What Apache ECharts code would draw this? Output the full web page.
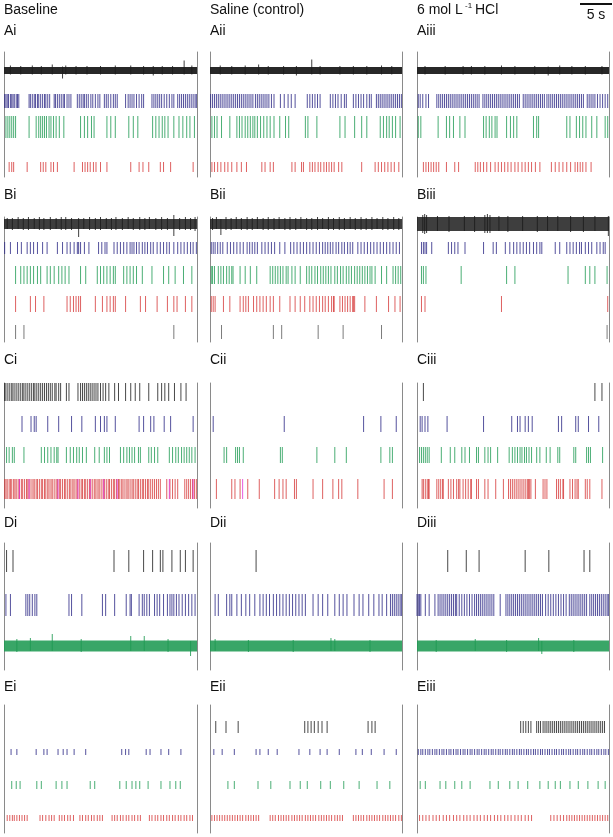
<!DOCTYPE html>
<html>
<head>
<meta charset="utf-8">
<script src="https://cdn.jsdelivr.net/npm/echarts@6/dist/echarts.min.js"></script>
<style>
html,body{margin:0;padding:0;background:#fff;}
#main{width:613px;height:837px;}
</style>
</head>
<body>
<div id="main"></div>
<script>
// recording window of every panel, seconds
const X_MIN = 0, X_MAX = 30;
const SCALE_BAR = 5; // s

const colTitles = ['Baseline', 'Saline (control)', '6 mol L', 'HCl'];
const panelNames = ['Ai','Aii','Aiii','Bi','Bii','Biii','Ci','Cii','Ciii','Di','Dii','Diii','Ei','Eii','Eiii'];

// ---- spike times (s) ----
// row A
const Ai_black_peaks = [[1.0,5,4],[2.6,4.5,4],[4.4,5,4],[5.8,4.5,4],[7.5,6,4],[9.1,4,8],[9.6,5,4],[11.2,4.5,4],[12.9,4.5,4],[15.0,4.5,4],[17.3,5,4],[19.7,5,4],[21.7,4.5,4],[23.2,4.5,5],[24.6,4.5,4],[26.2,4.5,4],[28.0,10,4],[29.2,5,4]];
const Ai_blue = [0.1,0.3,0.5,0.7,1.0,1.2,1.4,1.6,1.9,2.1,2.3,3.9,4.1,4.4,4.7,4.9,5.2,5.4,5.7,6.0,6.3,6.5,6.8,7.1,7.8,8.0,8.3,8.6,8.9,9.2,9.4,9.8,10.1,10.4,11.4,11.7,12.0,12.3,12.5,12.8,13.1,13.5,13.8,14.2,14.6,14.9,15.6,15.9,16.2,16.6,17.0,17.3,17.6,18.9,19.3,19.6,19.9,20.2,20.6,21.0,21.4,21.7,23.0,23.3,23.6,23.9,24.2,24.5,24.9,25.3,25.7,26.1,26.4,27.0,27.3,27.6,27.9,28.2,28.5,28.8,29.1,29.4,29.7,29.9];
const Ai_green = [0.3,0.6,0.9,1.2,1.5,1.8,3.9,5.0,5.4,5.7,6.0,6.3,6.6,7.0,7.3,7.7,8.1,8.6,9.3,11.9,12.5,13.0,13.6,14.0,16.0,16.6,17.3,19.4,20.1,20.8,23.1,23.6,24.1,24.6,25.0,25.5,26.4,27.2,27.8,28.4,28.9,29.6];
const Ai_red = [0.8,1.2,1.5,3.6,5.7,6.1,6.5,7.3,7.7,8.3,10.9,12.2,12.6,13.0,13.4,13.9,14.3,15.0,16.0,19.7,21.0,21.6,22.5,24.3,24.8,25.9,29.4];

const Aii_black_peaks = [[1.6,5,4],[3.4,4.5,4],[5.5,5,4],[7.6,6,4],[9.1,4.5,4],[11.5,4.5,4],[13.5,4.5,5],[15.9,11,4],[17.2,4.5,4],[20.3,4.5,4],[22.4,4.5,4],[24.5,4.5,4],[26.8,5,4],[28.4,4.5,4]];
const Aii_blue = [0.1,0.4,0.7,1.0,1.3,1.6,1.9,2.2,2.5,2.8,3.1,3.4,3.7,4.0,4.3,4.6,4.9,5.2,5.5,5.8,6.1,6.4,6.7,7.1,7.4,7.7,8.0,8.3,8.6,8.9,9.2,9.6,10.0,11.0,11.6,12.2,12.7,13.3,15.2,15.6,16.0,16.4,16.8,17.2,18.8,19.2,19.6,20.0,20.5,21.0,21.3,22.4,22.8,23.2,23.6,24.0,24.5,24.9,25.2,26.0,26.3,26.6,26.9,27.2,27.5,27.8,28.1,28.4,28.7,29.0,29.3,29.6,29.9];
const Aii_green = [0.3,0.7,1.1,1.8,3.1,4.2,4.6,5.0,5.5,5.9,6.3,6.7,7.0,7.4,7.9,8.4,8.9,9.4,10.0,10.9,11.8,12.3,14.9,15.3,16.7,20.3,21.1,22.6,23.7,24.5,26.6,27.1,27.6,28.0,28.5,29.0,29.7];
const Aii_red = [0.3,0.7,1.2,1.7,2.3,2.8,3.4,4.2,4.9,5.7,8.1,8.6,9.4,9.9,12.8,13.3,14.3,14.6,15.6,16.0,16.4,16.9,17.3,17.8,18.2,18.6,19.0,19.4,20.1,20.6,23.7,25.8,26.3,26.8,27.3,27.8,28.3,28.8,29.5];

const Aiii_black_peaks = [[1.25,4.5,4],[4.4,4.5,4],[7.2,4.5,4],[8.5,4.5,4],[10.6,4.5,4],[13.2,5,4],[15.3,4.5,4],[18.4,4.5,4],[20.5,4,5],[22.3,5,4],[24.2,4.5,4],[26.3,4.5,4],[28.9,4.5,4]];
const Aiii_blue = [0.2,0.5,0.9,1.4,1.8,3.1,3.4,3.7,4.0,4.3,4.6,4.9,5.2,5.5,5.8,6.1,6.4,6.7,7.0,7.3,7.6,7.9,8.2,8.5,8.8,9.1,9.4,9.7,10.3,10.6,10.9,11.2,11.5,11.8,12.1,12.4,12.7,13.0,13.3,13.6,13.9,14.2,14.5,14.8,15.1,15.4,15.7,16.0,16.6,16.9,17.2,17.5,17.8,18.1,18.4,18.7,19.0,19.3,19.6,19.9,20.3,20.6,20.9,21.2,21.5,21.8,22.1,22.4,22.7,23.0,23.3,23.6,23.9,24.2,24.5,24.8,25.1,25.4,25.7,26.0,26.6,26.9,27.2,27.5,27.8,28.2,28.6,29.0,29.4,29.8];
const Aiii_green = [0.2,0.6,3.3,4.6,5.1,5.7,6.7,7.5,10.4,10.8,11.3,11.7,12.2,12.5,14.0,14.6,15.1,15.6,18.2,18.7,19.0,23.4,23.9,24.9,25.4,25.9,26.4,27.3,28.1,29.4,29.8];
const Aiii_red = [1.0,1.4,1.8,2.2,2.6,3.0,3.4,4.6,5.9,6.5,9.1,9.5,9.9,10.4,10.9,11.5,12.2,12.7,13.2,13.7,14.2,14.7,15.3,15.8,16.4,16.9,17.4,17.9,18.5,19.2,21.0,21.6,22.2,22.8,23.4,24.0,24.7,25.1,25.5,25.9,26.4,27.2];

// row B
const Bi_black_peaks = [[0.5,6,5],[1.3,6,6],[2.2,7,5],[3.0,6,6],[3.8,7,6],[4.7,6,5],[5.5,7,6],[6.2,6,6],[7.2,7,6],[8.1,6,5],[8.9,7,6],[9.6,7,6],[10.5,6,6],[11.6,6,13],[12.4,6,5],[13.3,7,6],[14.2,6,6],[15.0,7,6],[15.9,6,5],[16.7,6,6],[17.4,7,6],[18.4,6,6],[19.3,7,5],[20.1,6,6],[21.1,7,6],[21.9,6,6],[22.6,7,5],[23.6,6,6],[24.5,7,6],[25.4,6,6],[26.4,9,12],[27.3,6,6],[28.2,7,6],[29.0,6,6],[29.7,7,7]];
const Bi_blue = [0.1,1.0,2.1,2.7,3.6,4.1,4.6,5.2,6.0,6.7,8.3,9.1,9.8,10.3,10.9,11.4,11.6,11.9,12.5,13.2,14.7,15.2,15.7,16.0,17.1,17.6,18.1,18.6,19.1,19.6,19.9,20.2,20.6,21.0,21.5,21.9,22.3,22.8,23.2,23.8,24.3,24.8,25.3,25.7,26.4,27.0,27.5,28.0,28.5,29.0,29.4,29.9];
const Bi_green = [1.8,2.6,3.1,3.6,4.1,4.6,5.2,5.7,6.7,7.2,7.8,8.5,9.0,9.5,10.1,11.9,12.7,14.5,15.0,15.5,16.0,16.5,17.0,17.3,18.6,19.1,19.6,20.1,20.6,21.5,23.0,24.8,25.6,26.6,27.9,29.2];
const Bi_red = [1.8,4.1,4.9,6.2,9.8,10.3,10.8,11.2,11.6,11.9,14.2,15.3,16.0,16.5,17.0,17.3,18.9,21.2,22.0,23.8,25.4,26.4,26.9,28.2,29.2];
const Bi_gray = [1.8,3.1,26.4];

const Bii_black_peaks = [[0.4,6,6],[1.0,7,5],[1.7,5,11],[2.5,7,6],[3.3,6,6],[4.1,7,5],[4.9,6,6],[5.8,7,6],[6.6,6,6],[7.4,7,5],[8.3,6,6],[9.1,7,6],[10.0,6,6],[10.8,7,5],[11.7,6,6],[12.5,7,6],[13.4,6,6],[14.2,7,5],[15.1,6,6],[15.9,6,6],[16.8,7,6],[17.6,6,5],[18.5,7,6],[19.3,6,6],[20.2,7,6],[21.0,6,6],[21.9,7,5],[22.7,6,6],[23.6,7,6],[24.4,6,6],[25.3,7,6],[26.1,6,5],[27.0,7,6],[27.8,6,6],[28.7,7,6],[29.5,6,6]];
const Bii_blue = [0.2,0.5,0.8,1.2,1.6,2.0,2.7,3.2,3.7,4.2,4.7,5.2,5.8,6.2,6.6,7.0,7.4,8.1,8.6,9.1,9.6,10.1,10.9,11.7,12.6,13.1,13.6,14.1,14.6,15.1,15.6,16.1,16.6,17.1,17.6,18.0,18.4,18.8,19.2,19.7,20.1,20.6,21.0,21.5,21.9,22.3,23.1,23.6,24.1,24.6,25.1,25.6,26.1,26.6,27.1,27.6,28.1,28.6,29.1,29.6];
const Bii_green = [0.2,0.4,0.7,1.3,1.7,2.1,2.6,3.0,3.4,3.6,4.7,5.5,6.3,7.3,9.4,9.8,10.2,10.6,11.0,11.4,11.9,12.2,12.8,13.3,14.1,15.1,15.5,15.9,16.4,16.8,17.3,17.7,18.1,18.5,18.9,19.5,19.9,20.4,20.8,21.3,21.7,22.1,22.6,23.0,23.4,23.8,24.2,24.6,25.0,25.3,25.8,26.8,27.6,28.6,29.0,29.4,29.8];
const Bii_red = [0.2,0.5,0.8,2.1,3.1,4.7,5.2,5.6,6.0,6.8,7.3,7.8,8.3,8.8,9.4,9.9,10.9,12.5,13.3,14.1,14.8,15.6,16.1,16.6,17.1,17.6,18.0,18.5,19.0,19.3,19.4,20.3,20.7,21.1,21.5,21.9,22.3,22.4,22.6,24.2,26.0,27.9,28.9,29.7];
const Bii_gray = [1.8,9.9,11.2,16.9,20.8,26.8];

const Biii_black_peaks = [[0.9,9,9],[1.2,10,10],[1.5,9,9],[3.2,8,7],[5.0,8,8],[7.4,8,7],[9.0,8,8],[10.6,9,9],[11.0,10,9],[11.4,9,9],[12.8,8,7],[14.2,8,8],[16.5,8,7],[18.8,8,8],[20.4,8,7],[22.0,8,7],[24.0,8,8],[26.0,8,8],[27.8,8,7],[29.9,8,12]];
const Biii_blue = [0.7,1.0,1.25,1.5,2.3,4.9,5.4,5.9,6.4,7.5,10.4,11.9,12.4,13.8,14.5,15.1,15.6,16.1,16.6,17.1,17.6,18.2,18.7,19.2,19.5,21.6,22.3,23.4,23.9,24.4,24.9,25.4,25.7,26.3,26.8,27.3,28.1,28.6,29.1,29.4];
const Biii_green = [0.7,1.0,1.4,6.9,14.0,15.3,23.6,26.3,27.0,27.8,29.7];
const Biii_red = [0.7,1.25,13.2,29.8];
const Biii_gray = [29.7];

// row C
const Ci_black = [0.1,0.3,0.6,0.9,1.2,1.4,1.7,2.0,2.3,2.6,2.9,3.1,3.4,3.7,4.0,4.3,4.6,4.8,5.1,5.4,5.7,6.0,6.3,6.6,6.9,7.2,7.5,7.9,8.1,8.5,8.8,9.7,10.1,11.5,11.9,12.2,12.5,12.8,13.1,13.4,13.7,14.0,14.3,14.6,15.0,15.4,15.8,16.3,17.2,17.8,18.9,19.7,20.4,21.1,22.5,23.9,24.5,25.0,25.6,26.5,27.5,28.3];
const Ci_blue = [2.8,4.2,4.7,5.0,6.8,8.5,10.5,12.1,14.2,15.0,15.6,16.0,17.3,21.0,21.7,22.8,23.3,24.9,25.9,29.4];
const Ci_green = [0.4,0.8,1.3,1.6,3.1,5.8,6.3,6.8,7.3,7.8,8.2,8.4,9.7,10.3,10.8,11.3,11.7,12.2,12.8,14.1,14.8,15.6,16.0,16.4,18.1,18.6,19.1,19.5,19.9,20.3,20.9,21.2,22.5,22.9,23.4,23.9,25.7,26.2,26.7,27.1,27.6,28.0,28.4,28.8,29.2,29.7];
const Ci_red = [0.1,0.3,0.5,0.8,1.0,1.2,1.5,1.7,1.9,2.2,2.4,2.7,2.9,3.2,3.5,3.7,3.9,4.2,4.5,4.7,5.0,5.2,5.5,5.8,6.0,6.3,6.5,6.8,7.0,7.3,7.5,7.8,8.1,8.3,8.6,8.8,9.1,9.4,9.6,9.9,10.2,10.4,10.7,10.9,11.2,11.4,11.7,12.0,12.2,12.5,12.7,13.0,13.3,13.5,13.8,14.1,14.3,14.6,14.8,15.1,15.4,15.6,15.9,16.2,16.4,16.7,17.0,17.2,17.5,17.8,18.0,18.3,18.5,18.8,19.1,19.3,19.6,19.9,20.1,20.4,20.7,20.9,21.2,21.5,21.7,22.0,22.3,22.5,22.8,23.1,23.4,23.7,24.0,24.3,25.3,25.8,26.2,26.6,27.0,28.1,28.4,28.7,29.0,29.3,29.6,29.9];
const Ci_magenta = [2.4,3.9,8.4,11.5,13.4,15.5,17.6,25.7,29.4];

const Cii_blue = [0.5,11.6,24.0,26.7,29.1];
const Cii_green = [2.2,2.6,4.0,4.3,4.6,5.2,11.0,11.3,16.7,19.5,21.3,26.7,28.1,28.5];
const Cii_red = [1.0,3.4,3.9,4.7,5.9,7.7,10.1,10.8,11.4,11.9,13.2,13.5,16.1,17.6,19.2,20.1,20.6,23.1,27.2,28.5];
const Cii_magenta = [5.1];

const Ciii_black = [1.0,27.8,28.9];
const Ciii_blue = [0.5,0.8,1.25,1.7,4.7,10.4,14.8,15.7,16.1,16.9,17.4,18.0,22.1,22.6,24.8,25.2,26.8,28.4];
const Ciii_green = [0.4,0.7,1.0,1.3,1.6,1.9,3.8,5.2,5.9,7.0,7.5,8.2,9.3,9.6,10.6,11.1,11.5,12.6,14.4,14.9,15.3,15.7,16.1,16.4,16.8,17.1,17.5,17.9,18.7,19.2,20.2,20.8,22.0,22.3,24.5,24.8,26.5,26.8,27.1,29.0];
const Ciii_red = [0.8,1.0,1.3,1.6,1.8,1.9,3.1,3.4,3.7,4.0,4.1,4.9,5.3,5.7,6.2,6.5,6.7,7.2,7.6,8.0,8.4,8.5,9.3,9.6,10.6,11.1,12.3,13.5,14.3,14.6,14.9,15.2,15.5,15.8,16.1,16.4,16.7,17.0,17.3,17.4,17.6,17.8,18.5,19.7,20.0,20.3,21.8,22.1,22.4,22.8,22.9,23.9,24.3,24.7,25.0,25.2,26.3,26.6,27.0,28.9];

// row D
const Di_black = [0.4,1.4,17.1,19.4,21.7,23.1,24.3,24.7,26.1,27.4,28.2,29.4];
const Di_blue = [0.3,1.0,3.4,3.7,4.0,4.4,4.8,5.1,10.1,10.5,12.1,15.3,15.8,17.2,19.0,19.6,19.8,21.0,21.5,21.8,22.2,22.6,23.4,23.8,24.2,24.8,25.4,25.8,26.1,26.4,26.8,27.2,27.7,28.2,28.7,29.2,29.7];
const Di_green_peaks = [[2.0,7,6],[4.1,8,5],[7.5,12,5],[12.0,7,6],[19.7,10,5],[21.8,10,5],[25.5,7,6],[29.0,5,10]];

const Dii_black = [7.2];
const Dii_blue = [0.8,1.3,2.6,3.1,3.4,4.2,4.9,5.6,6.2,7.0,7.8,8.3,8.8,9.3,9.9,10.4,10.9,11.4,11.9,12.4,12.9,13.4,13.9,14.4,14.9,16.1,16.9,17.6,18.4,19.5,20.2,20.8,21.4,22.5,23.3,23.9,24.8,25.6,26.4,26.9,27.6,28.2,28.5,28.8,29.1,29.4,29.7,29.9];
const Dii_green_peaks = [[0.8,7,5],[6.0,6,6],[13.0,6,6],[18.9,8,5],[19.5,7,5],[25.0,6,6]];

const Diii_black = [4.8,7.7,9.7,16.9,20.6,26.1,27.0];
const Diii_blue = [0.0,0.2,0.4,0.6,1.3,1.9,2.8,3.3,3.6,3.9,4.2,4.5,4.8,5.1,5.4,5.7,6.0,6.2,6.6,7.0,7.4,7.8,8.2,8.6,9.0,9.3,9.6,9.9,10.2,10.5,10.8,11.1,11.4,11.7,12.0,13.0,13.9,14.2,14.5,14.8,15.1,15.4,15.7,16.0,16.3,16.6,16.9,17.2,17.5,17.8,18.1,18.4,18.7,19.0,19.3,19.6,20.1,20.5,20.9,21.3,21.7,22.1,22.5,22.9,23.3,23.8,24.1,24.4,24.7,25.0,25.3,25.6,25.9,26.2,26.5,27.0,27.3,27.6,27.9,28.2,28.5,28.8,29.1,29.4,29.7,29.9];
const Diii_green_peaks = [[3.0,6,6],[9.1,7,5],[14.0,6,6],[19.0,8,5],[19.5,5,8],[24.5,6,6]];

// row E
const Ei_blue = [1.1,2.0,5.0,6.2,6.7,8.4,9.2,9.8,10.9,12.7,18.3,18.9,19.4,22.1,22.7,24.4,25.6,27.5];
const Ei_green = [1.2,1.9,2.5,5.1,5.8,8.1,9.0,9.8,13.4,14.1,18.0,19.0,19.9,20.5,21.1,22.4,24.4,25.8,26.7,27.4];
const Ei_red = [0.5,0.9,1.3,1.6,2.0,2.4,2.8,3.2,3.6,5.6,6.0,6.5,7.0,7.4,7.8,8.6,9.0,9.4,9.9,10.3,10.8,11.8,12.2,12.7,13.1,13.6,14.0,14.5,14.9,15.3,16.8,17.2,17.6,18.1,18.5,19.0,19.4,19.9,20.3,20.8,21.2,22.6,23.0,23.5,23.9,24.4,24.8,25.3,25.7,26.2,26.6,27.1,27.5,28.0,28.4,28.9,29.3];

const Eii_black = [0.9,2.5,4.4,14.8,15.3,15.8,16.3,16.9,17.5,18.3,24.7,25.3,25.8];
const Eii_blue = [0.6,1.9,3.8,7.2,7.8,9.1,10.5,13.9,15.6,17.2,18.3,20.2,22.8,23.8,25.2,27.2,29.1];
const Eii_green = [2.8,3.8,7.5,9.5,12.5,14.1,15.2,17.3,18.8,20.9,23.3,26.1,28.1];
const Eii_red = [0.3,0.7,1.1,1.5,1.9,2.3,2.7,3.1,3.5,3.9,4.3,4.7,5.1,5.6,6.0,6.4,6.8,7.2,7.6,9.4,9.8,10.2,10.7,11.1,11.5,11.9,12.3,12.8,13.2,13.6,14.0,14.4,14.9,15.3,15.7,16.1,16.5,17.0,17.4,17.8,18.2,18.6,19.0,19.5,19.9,20.3,20.7,22.4,22.8,23.2,23.6,24.0,24.5,24.9,25.3,25.7,26.1,26.5,27.0,27.4,27.8,28.2,28.6,29.0,29.5,29.9];

const Eiii_black = [16.2,16.6,17.0,17.4,17.8,18.7,19.0,19.3,19.7,20.0,20.3,20.6,20.9,21.2,21.5,21.8,22.1,22.4,22.7,23.0,23.3,23.6,23.9,24.2,24.5,24.8,25.1,25.4,25.7,26.0,26.3,26.6,26.9,27.2,27.5,27.8,28.1,28.4,28.7,29.0,29.3];
const Eiii_blue = [0.2,0.6,0.9,1.3,1.7,2.0,2.4,2.8,3.1,3.5,3.9,4.2,4.6,5.0,5.3,5.7,6.1,6.4,6.8,7.2,7.5,7.9,8.3,8.6,9.0,9.4,9.7,10.1,10.5,10.8,11.2,11.6,11.9,12.3,12.7,13.0,13.4,13.8,14.1,14.5,14.9,15.2,15.6,16.0,16.3,16.7,17.1,17.4,17.8,18.2,18.5,18.9,19.3,19.6,20.0,20.4,20.7,21.1,21.5,21.8,22.2,22.6,22.9,23.3,23.7,24.0,24.4,24.8,25.1,25.5,25.9,26.2,26.6,27.0,27.3,27.7,28.1,28.4,28.8,29.2,29.5,29.9];
const Eiii_green = [0.5,1.3,3.6,4.5,5.9,7.0,8.3,11.4,12.7,14.5,15.8,17.3,19.2,20.5,21.6,22.4,23.9,25.2,26.7,28.3,29.4];
const Eiii_red = [0.4,0.9,1.4,1.9,2.5,3.0,3.5,4.1,4.6,5.1,5.7,6.2,6.7,7.3,7.8,8.3,8.9,9.4,9.9,10.5,11.0,11.5,12.1,12.6,13.1,13.7,14.2,14.7,15.3,15.8,16.3,16.9,17.4,17.9,20.9,21.4,21.9,22.4,22.9,23.4,23.8,24.2,24.6,25.0,25.4,25.8,26.2,26.6,27.0,27.4,27.8,28.2,28.6,29.0,29.4,29.8];

// ---- layout / style (pixels) ----
const COLS = [{left: 4, width: 193}, {left: 210, width: 192}, {left: 417, width: 192}];
const ROWS = [
  {top: 52,  height: 125, labelY: 24,  lane: {black: 18.5, blue: 49, green: 75, red: 115}},
  {top: 217, height: 125, labelY: 188, lane: {black: 7, blue: 31, green: 58, red: 87, gray: 115}},
  {top: 383, height: 125, labelY: 353, lane: {black: 9, blue: 41, green: 72, red: 106, magenta: 106}},
  {top: 543, height: 127, labelY: 516, lane: {black: 18, blue: 62, green: 103}},
  {top: 705, height: 128, labelY: 680, lane: {black: 22, blue: 47, green: 80, red: 113}}
];
const HALF = [
  {black: 3.5, blue: 7, green: 11, red: 5},
  {black: 4, blue: 6, green: 9, red: 8, gray: 7},
  {black: 9, blue: 8, green: 8, red: 10, magenta: 10},
  {black: 11, blue: 11, green: 5},
  {black: 6, blue: 3, green: 4, red: 3}
];
const COLOR = {black: '#1c1c1c', blue: '#2a2785', green: '#1e9a52', red: '#d63a3a', magenta: '#e232d6', gray: '#5a5a5a'};

const trains = [
  ['Ai','blue',Ai_blue],['Ai','green',Ai_green],['Ai','red',Ai_red],
  ['Aii','blue',Aii_blue],['Aii','green',Aii_green],['Aii','red',Aii_red],
  ['Aiii','blue',Aiii_blue],['Aiii','green',Aiii_green],['Aiii','red',Aiii_red],
  ['Bi','blue',Bi_blue],['Bi','green',Bi_green],['Bi','red',Bi_red],['Bi','gray',Bi_gray],
  ['Bii','blue',Bii_blue],['Bii','green',Bii_green],['Bii','red',Bii_red],['Bii','gray',Bii_gray],
  ['Biii','blue',Biii_blue],['Biii','green',Biii_green],['Biii','red',Biii_red],['Biii','gray',Biii_gray],
  ['Ci','black',Ci_black],['Ci','blue',Ci_blue],['Ci','green',Ci_green],['Ci','red',Ci_red],['Ci','magenta',Ci_magenta],
  ['Cii','blue',Cii_blue],['Cii','green',Cii_green],['Cii','red',Cii_red],['Cii','magenta',Cii_magenta],
  ['Ciii','black',Ciii_black],['Ciii','blue',Ciii_blue],['Ciii','green',Ciii_green],['Ciii','red',Ciii_red],
  ['Di','black',Di_black],['Di','blue',Di_blue],
  ['Dii','black',Dii_black],['Dii','blue',Dii_blue],
  ['Diii','black',Diii_black],['Diii','blue',Diii_blue],
  ['Ei','blue',Ei_blue],['Ei','green',Ei_green],['Ei','red',Ei_red],
  ['Eii','black',Eii_black],['Eii','blue',Eii_blue],['Eii','green',Eii_green],['Eii','red',Eii_red],
  ['Eiii','black',Eiii_black],['Eiii','blue',Eiii_blue],['Eiii','green',Eiii_green],['Eiii','red',Eiii_red]
];
// continuous noisy recordings: band + listed excursions [t, up, down]
const noise = [
  ['Ai','black',Ai_black_peaks],['Aii','black',Aii_black_peaks],['Aiii','black',Aiii_black_peaks],
  ['Bi','black',Bi_black_peaks],['Bii','black',Bii_black_peaks],['Biii','black',Biii_black_peaks],
  ['Di','green',Di_green_peaks],['Dii','green',Dii_green_peaks],['Diii','green',Diii_green_peaks]
];
const BAND_HALF = {A: 3.5, B: 5, Biii: 7, D: 5.5};
const BAND_OPACITY = {A: 0.95, B: 0.85, D: 0.88};

var chart = echarts.init(document.getElementById('main'));

var grids = [], xAxes = [], yAxes = [], series = [], graphics = [];
panelNames.forEach(function (name, i) {
  var r = Math.floor(i / 3), c = i % 3;
  grids.push({left: COLS[c].left, top: ROWS[r].top, width: COLS[c].width, height: ROWS[r].height});
  xAxes.push({type: 'value', gridIndex: i, min: X_MIN, max: X_MAX, show: false});
  ['left', 'right'].forEach(function (pos) {
    yAxes.push({type: 'value', gridIndex: i, min: 0, max: ROWS[r].height, inverse: true, position: pos,
      axisLine: {show: true, onZero: false, lineStyle: {color: '#8a8a8a', width: 1}},
      axisTick: {show: false}, axisLabel: {show: false}, splitLine: {show: false}});
  });
  graphics.push({type: 'text', x: COLS[c].left, y: ROWS[r].labelY,
    style: {text: name, font: '14px "Liberation Sans", Arial, sans-serif', fill: '#111', verticalAlign: 'top'}});
});

function spikeSeries(gi, centre, half, color) {
  return function (params, api) {
    var a = api.coord([api.value(0), centre - half]);
    var b = api.coord([api.value(0), centre + half]);
    return {type: 'line', shape: {x1: a[0], y1: a[1], x2: b[0], y2: b[1]},
      style: {stroke: color, lineWidth: 1, opacity: 0.8}};
  };
}

trains.forEach(function (tr) {
  var gi = panelNames.indexOf(tr[0]), r = Math.floor(gi / 3);
  var centre = ROWS[r].lane[tr[1]], half = HALF[r][tr[1]];
  series.push({type: 'custom', xAxisIndex: gi, yAxisIndex: gi * 2, silent: true,
    renderItem: spikeSeries(gi, centre, half, COLOR[tr[1]]),
    data: tr[2].map(function (t) { return [t]; })});
});

noise.forEach(function (nz) {
  var gi = panelNames.indexOf(nz[0]), r = Math.floor(gi / 3);
  var centre = ROWS[r].lane[nz[1]];
  var half = nz[0] === 'Biii' ? BAND_HALF.Biii : BAND_HALF[nz[0][0]];
  var op = BAND_OPACITY[nz[0][0]];
  var color = COLOR[nz[1]];
  series.push({type: 'custom', xAxisIndex: gi, yAxisIndex: gi * 2, silent: true,
    renderItem: function (params, api) {
      var a = api.coord([api.value(0), centre - half]);
      var b = api.coord([api.value(1), centre + half]);
      return {type: 'rect', shape: {x: a[0], y: a[1], width: b[0] - a[0], height: b[1] - a[1]},
        style: {fill: color, opacity: op}};
    },
    data: [[X_MIN, X_MAX]]});
  series.push({type: 'custom', xAxisIndex: gi, yAxisIndex: gi * 2, silent: true,
    renderItem: function (params, api) {
      var a = api.coord([api.value(0), centre - api.value(1)]);
      var b = api.coord([api.value(0), centre + api.value(2)]);
      return {type: 'line', shape: {x1: a[0], y1: a[1], x2: b[0], y2: b[1]},
        style: {stroke: color, lineWidth: 1, opacity: 0.85}};
    },
    data: nz[2]});
});

// column titles
var titleFont = '14px "Liberation Sans", Arial, sans-serif';
graphics.push({type: 'text', x: COLS[0].left, y: 3, style: {text: colTitles[0], font: titleFont, fill: '#111', verticalAlign: 'top'}});
graphics.push({type: 'text', x: COLS[1].left, y: 3, style: {text: colTitles[1], font: titleFont, fill: '#111', verticalAlign: 'top'}});
graphics.push({type: 'text', x: COLS[2].left, y: 3, style: {text: colTitles[2], font: titleFont, fill: '#111', verticalAlign: 'top'}});
graphics.push({type: 'text', x: COLS[2].left + 48, y: 2, style: {text: '-1', font: '8px "Liberation Sans", Arial, sans-serif', fill: '#111', verticalAlign: 'top'}});
graphics.push({type: 'text', x: COLS[2].left + 58, y: 3, style: {text: colTitles[3], font: titleFont, fill: '#111', verticalAlign: 'top'}});

chart.setOption({
  animation: false,
  backgroundColor: '#fff',
  grid: grids, xAxis: xAxes, yAxis: yAxes, series: series, graphic: graphics
});

// 5 s scale bar above the last column, placed with the axis scale
var p0 = chart.convertToPixel({gridIndex: 2}, [X_MAX - SCALE_BAR, 0]);
var p1 = chart.convertToPixel({gridIndex: 2}, [X_MAX, 0]);
graphics.push({type: 'line', shape: {x1: p0[0] + 3, y1: 4, x2: p1[0] + 3, y2: 4}, style: {stroke: '#111', lineWidth: 2}});
graphics.push({type: 'text', x: (p0[0] + p1[0]) / 2 + 3, y: 8,
  style: {text: SCALE_BAR + ' s', font: titleFont, fill: '#111', align: 'center', verticalAlign: 'top'}});
chart.setOption({graphic: graphics});
</script>
</body>
</html>
